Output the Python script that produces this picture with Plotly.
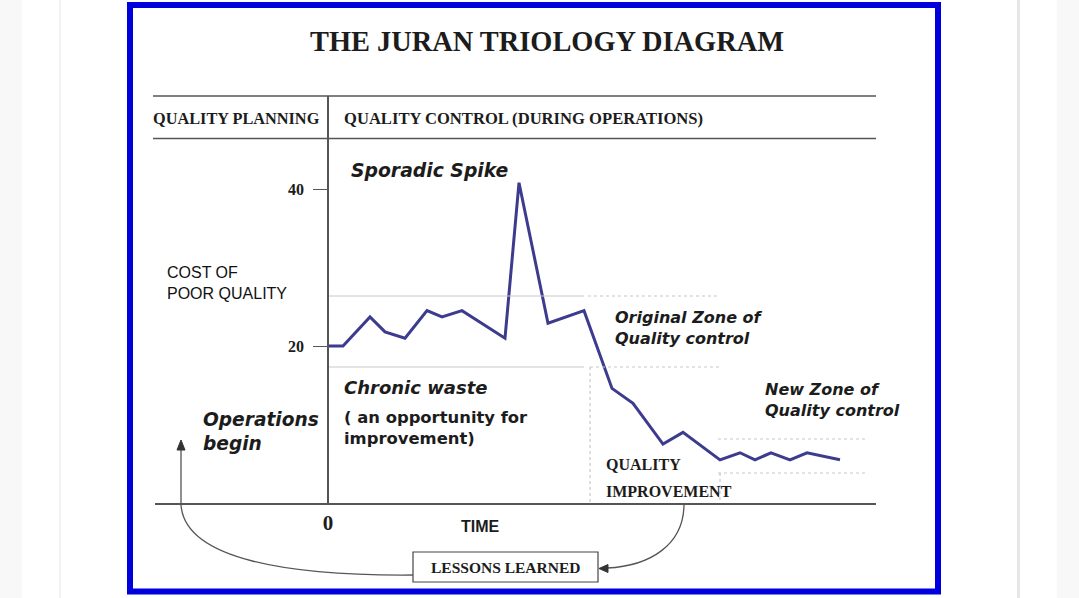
import plotly.graph_objects as go

# ---------------- data ----------------
time_vals = [0, 1.5, 4.2, 5.7, 7.7, 9.9, 11.4, 13.4, 17.7, 19.1, 22.0, 25.6,
             28.4, 30.5, 33.5, 35.5, 39.2, 41.2, 42.7, 44.3, 46.2, 47.9, 51.2]
cost_vals = [20.0, 20.0, 23.7, 21.8, 21.0, 24.5, 23.7, 24.5, 21.0, 40.8, 22.9, 24.5,
             14.6, 12.7, 7.5, 9.0, 5.5, 6.4, 5.5, 6.4, 5.5, 6.4, 5.5]
y_ticks = [20, 40]
y_tick_labels = ["20", "40"]
x_ticks = [0]
x_tick_labels = ["0"]

# ---------------- geometry ----------------
W, H = 1079, 598
L, R, T, B = 155, 876, 96, 503


def px(x):
    return (x - L) / (R - L)


def py(y):
    return (B - y) / (B - T)


SERIF = "Liberation Serif"
VERD = "DejaVu Sans"
ARIAL = "Liberation Sans"
INK = "#1c1c1c"
LINE = "#555555"
LIGHT = "#c8c8c8"

fig = go.Figure()
fig.add_trace(go.Scatter(x=time_vals, y=cost_vals, mode="lines",
                         line=dict(color="#3d3b8e", width=3),
                         hoverinfo="skip", showlegend=False))

shapes = []


def pline(x0, y0, x1, y1, color=LINE, width=1.5, dash="solid", layer="above"):
    shapes.append(dict(type="line", xref="paper", yref="paper",
                       x0=px(x0), y0=py(y0), x1=px(x1), y1=py(y1),
                       line=dict(color=color, width=width, dash=dash), layer=layer))


def prect(x0, y0, x1, y1, color, width=0, fill=None, layer="below"):
    shapes.append(dict(type="rect", xref="paper", yref="paper",
                       x0=px(x0), y0=py(y0), x1=px(x1), y1=py(y1),
                       line=dict(color=color, width=width),
                       fillcolor=fill if fill else "rgba(0,0,0,0)", layer=layer))


def ppath(cmds, color=LINE, width=1.3, fill=None):
    parts = []
    for c in cmds:
        if isinstance(c, str):
            parts.append(c)
        else:
            parts.append("%.5f,%.5f" % (px(c[0]), py(c[1])))
    shapes.append(dict(type="path", xref="paper", yref="paper", path=" ".join(parts),
                       line=dict(color=color, width=width),
                       fillcolor=fill if fill else "rgba(0,0,0,0)", layer="above"))


# page background strips
prect(0, 0, 22, H, "#f8f8f8", 0, "#f8f8f8")
prect(59.5, 0, 60.5, H, "#e8e8e8", 0, "#e8e8e8")
prect(1017, 0, 1020, H, "#e6e6e6", 0, "#e6e6e6")
prect(1057, 0, W, H, "#f8f8f8", 0, "#f8f8f8")
# blue frame
prect(130, 5, 938, 591.5, "#0000dd", 6, None, "above")

# header lines
pline(153, 96, 876, 96)
pline(153, 138.5, 876, 138.5)

# zone lines
pline(329, 296, 584, 296, LIGHT, 1)
pline(588, 296, 718, 296, LIGHT, 1.2, "dot")
pline(329, 367, 584, 367, LIGHT, 1)
pline(590, 367, 720, 367, LIGHT, 1.2, "dot")
pline(590, 367, 590, 502, LIGHT, 1.2, "dot")
pline(718, 439, 868, 439, LIGHT, 1.2, "dot")
pline(718, 473, 868, 473, LIGHT, 1.2, "dot")
pline(720, 473, 720, 502, LIGHT, 1.2, "dot")

# lessons learned box
prect(413, 552, 598, 582, "#444444", 1.2, "white", "above")

# right curved arrow (quality improvement -> lessons learned)
ppath(["M", (684, 504), "C", (684, 545), (650, 566), (607, 568)])
ppath(["M", (599, 568.5), "L", (608, 564.5), "L", (608, 572.5), "Z"], "#333333", 1, "#333333")
# left curved arrow (lessons learned -> operations begin)
ppath(["M", (413, 575), "C", (290, 576), (185, 560), (181, 505), "L", (181, 450)])
ppath(["M", (181, 440), "L", (177, 450), "L", (185, 450), "Z"], "#333333", 1, "#333333")

annotations = []


def text(x, y, s, font, size, bold=False, italic=False, anchor="left", color=INK):
    if bold:
        s = "<b>" + s.replace("<br>", "</b><br><b>") + "</b>"
    if italic:
        s = "<i>" + s.replace("<br>", "</i><br><i>") + "</i>"
    annotations.append(dict(x=px(x), y=py(y), xref="paper", yref="paper",
                            text=s, showarrow=False, xanchor=anchor, yanchor="middle",
                            align="left", font=dict(family=font, size=size, color=color)))


text(547, 41, "THE JURAN TRIOLOGY DIAGRAM", SERIF, 28.4, bold=True, anchor="center")
text(151, 118, "QUALITY PLANNING", SERIF, 16.3, bold=True)
text(342, 118, "QUALITY CONTROL (DURING OPERATIONS)", SERIF, 16.6, bold=True)
text(349, 170, "Sporadic Spike", VERD, 18.8, bold=True, italic=True)
text(165, 283, "COST OF<br>POOR QUALITY", ARIAL, 16, color="#111111")
text(613, 328, "Original Zone of<br>Quality control", VERD, 16, bold=True, italic=True)
text(342, 387, "Chronic waste", VERD, 18, bold=True, italic=True)
text(763, 400, "New Zone of<br>Quality control", VERD, 16, bold=True, italic=True)
text(342, 428, "( an opportunity for<br>improvement)", VERD, 16.4, bold=True)
text(201, 431, "Operations<br>begin", VERD, 18.6, bold=True, italic=True)
text(604, 464, "QUALITY", SERIF, 16, bold=True)
text(604, 491, "IMPROVEMENT", SERIF, 16, bold=True)
text(459, 526, "TIME", ARIAL, 16, bold=True)
text(505, 567, "LESSONS LEARNED", SERIF, 15.5, bold=True, anchor="center")

y_top = 20 + (346 - T) / 7.85
fig.update_layout(
    width=W, height=H,
    margin=dict(l=L, r=W - R, t=T, b=H - B, pad=0),
    paper_bgcolor="white", plot_bgcolor="rgba(0,0,0,0)",
    showlegend=False,
    xaxis=dict(range=[-17.3, 54.8], showgrid=False, zeroline=False,
               showline=True, linecolor=LINE, linewidth=1.5,
               tickvals=x_ticks, ticktext=["<b>%s</b>" % t for t in x_tick_labels],
               ticks="", ticklabelstandoff=0,
               tickfont=dict(family=SERIF, size=21, color=INK), fixedrange=True),
    yaxis=dict(range=[0, y_top], showgrid=False, zeroline=False,
               anchor="free", position=px(328),
               showline=True, linecolor=LINE, linewidth=1.5,
               tickvals=y_ticks, ticktext=["<b>%s</b>" % t for t in y_tick_labels],
               ticks="outside", ticklen=14, tickwidth=1.3,
               tickcolor=LINE, ticklabelstandoff=6,
               tickfont=dict(family=SERIF, size=16, color=INK), fixedrange=True),
    shapes=shapes,
    annotations=annotations,
)

fig.write_html("out.html", config={"displayModeBar": False},
               post_script="document.body.style.margin='0';document.body.style.padding='0';")
